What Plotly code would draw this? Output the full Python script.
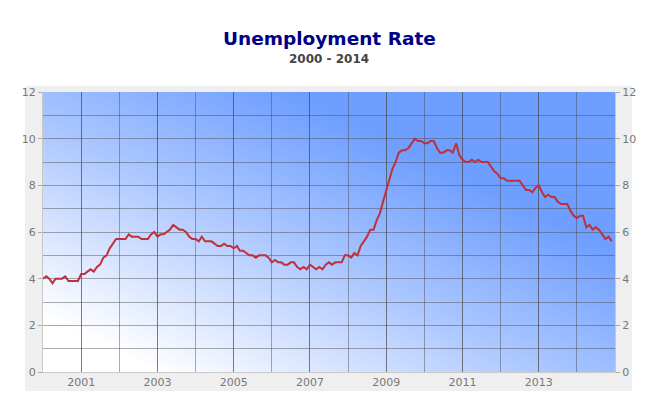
import base64
import struct
import zlib
import pandas as pd
import plotly.graph_objects as go

# Monthly unemployment rate (%), Jan 2000 - Dec 2014
rate_2000 = [4.0, 4.1, 4.0, 3.8, 4.0, 4.0, 4.0, 4.1, 3.9, 3.9, 3.9, 3.9]
rate_2001 = [4.2, 4.2, 4.3, 4.4, 4.3, 4.5, 4.6, 4.9, 5.0, 5.3, 5.5, 5.7]
rate_2002 = [5.7, 5.7, 5.7, 5.9, 5.8, 5.8, 5.8, 5.7, 5.7, 5.7, 5.9, 6.0]
rate_2003 = [5.8, 5.9, 5.9, 6.0, 6.1, 6.3, 6.2, 6.1, 6.1, 6.0, 5.8, 5.7]
rate_2004 = [5.7, 5.6, 5.8, 5.6, 5.6, 5.6, 5.5, 5.4, 5.4, 5.5, 5.4, 5.4]
rate_2005 = [5.3, 5.4, 5.2, 5.2, 5.1, 5.0, 5.0, 4.9, 5.0, 5.0, 5.0, 4.9]
rate_2006 = [4.7, 4.8, 4.7, 4.7, 4.6, 4.6, 4.7, 4.7, 4.5, 4.4, 4.5, 4.4]
rate_2007 = [4.6, 4.5, 4.4, 4.5, 4.4, 4.6, 4.7, 4.6, 4.7, 4.7, 4.7, 5.0]
rate_2008 = [5.0, 4.9, 5.1, 5.0, 5.4, 5.6, 5.8, 6.1, 6.1, 6.5, 6.8, 7.3]
rate_2009 = [7.8, 8.3, 8.7, 9.0, 9.4, 9.5, 9.5, 9.6, 9.8, 10.0, 9.9, 9.9]
rate_2010 = [9.8, 9.8, 9.9, 9.9, 9.6, 9.4, 9.4, 9.5, 9.5, 9.4, 9.8, 9.3]
rate_2011 = [9.1, 9.0, 9.0, 9.1, 9.0, 9.1, 9.0, 9.0, 9.0, 8.8, 8.6, 8.5]
rate_2012 = [8.3, 8.3, 8.2, 8.2, 8.2, 8.2, 8.2, 8.0, 7.8, 7.8, 7.7, 7.9]
rate_2013 = [8.0, 7.7, 7.5, 7.6, 7.5, 7.5, 7.3, 7.2, 7.2, 7.2, 6.9, 6.7]
rate_2014 = [6.6, 6.7, 6.7, 6.2, 6.3, 6.1, 6.2, 6.1, 5.9, 5.7, 5.8, 5.6]

rates = (rate_2000 + rate_2001 + rate_2002 + rate_2003 + rate_2004 + rate_2005 +
         rate_2006 + rate_2007 + rate_2008 + rate_2009 + rate_2010 + rate_2011 +
         rate_2012 + rate_2013 + rate_2014)
dates = pd.date_range("2000-01-01", periods=len(rates), freq="MS")

x_tick_labels = ["2001", "2003", "2005", "2007", "2009", "2011", "2013"]
x_tick_vals = [lbl + "-01-01" for lbl in x_tick_labels]

title_text = "Unemployment Rate"
subtitle_text = "2000 - 2014"


# ---- small PNG helpers (backgrounds only) ----
def png_uri(width, height, pixel_fn):
    raw = bytearray()
    for j in range(height):
        raw.append(0)
        for i in range(width):
            raw.extend(pixel_fn(i, j))

    def chunk(tag, data):
        c = struct.pack(">I", len(data)) + tag + data
        return c + struct.pack(">I", zlib.crc32(tag + data) & 0xffffffff)

    png = b"\x89PNG\r\n\x1a\n"
    png += chunk(b"IHDR", struct.pack(">IIBBBBB", width, height, 8, 2, 0, 0, 0))
    png += chunk(b"IDAT", zlib.compress(bytes(raw), 9))
    png += chunk(b"IEND", b"")
    return "data:image/png;base64," + base64.b64encode(png).decode()


W, H = 286, 140
stops = [(0.0, (255, 255, 255)), (0.10, (255, 255, 255)),
         (0.45, (170, 198, 255)), (0.72, (110, 158, 255)), (1.0, (110, 158, 255))]


def grad(i, j):
    u = i / (W - 1)
    v = 1 - j / (H - 1)
    t = (u + v) / 2
    for k in range(len(stops) - 1):
        t0, c0 = stops[k]
        t1, c1 = stops[k + 1]
        if t <= t1:
            f = 0 if t1 == t0 else (t - t0) / (t1 - t0)
            return bytes(int(round(c0[m] + (c1[m] - c0[m]) * f)) for m in range(3))
    return bytes(stops[-1][1])


gradient_uri = png_uri(W, H, grad)
panel_uri = png_uri(2, 2, lambda i, j: bytes((239, 239, 239)))

fig = go.Figure()
fig.add_trace(go.Scatter(
    x=dates, y=rates, mode="lines",
    line=dict(color="#c0303a", width=2),
    hoverinfo="x+y", showlegend=False,
))
# invisible copy so the right-hand axis is drawn
fig.add_trace(go.Scatter(
    x=dates, y=rates, mode="lines", yaxis="y2",
    line=dict(color="rgba(0,0,0,0)", width=0),
    hoverinfo="skip", showlegend=False,
))

grid_color = "rgba(70,70,70,0.45)"
tick_font = dict(family="DejaVu Sans", size=11, color="#777777")

fig.update_layout(
    width=644, height=397,
    margin=dict(l=35, r=37, t=84, b=33),
    paper_bgcolor="white",
    plot_bgcolor="rgba(0,0,0,0)",
    xaxis=dict(
        type="date",
        range=["2000-01-01", "2015-01-01"],
        tickvals=x_tick_vals, ticktext=x_tick_labels, tickmode="array",
        showgrid=True, gridcolor=grid_color, gridwidth=1,
        minor=dict(dtick="M12", tick0="2000-01-01", showgrid=True,
                   gridcolor=grid_color, gridwidth=1),
        ticks="", tickfont=tick_font, automargin=False,
        showline=True, linecolor="#c8c8c8", linewidth=1,
        zeroline=False, fixedrange=True,
    ),
    yaxis=dict(
        range=[0, 12], dtick=2, tick0=0,
        showgrid=True, gridcolor=grid_color, gridwidth=1,
        minor=dict(dtick=1, showgrid=True, gridcolor=grid_color, gridwidth=1),
        ticks="outside", ticklen=4, tickcolor="#aaaaaa", automargin=False,
        tickfont=tick_font, showline=True, linecolor="#c8c8c8", linewidth=1,
        zeroline=False, fixedrange=True,
    ),
    yaxis2=dict(
        range=[0, 12], dtick=2, tick0=0, overlaying="y", side="right",
        showgrid=False, ticks="outside", ticklen=4, tickcolor="#aaaaaa",
        tickfont=tick_font, showline=True, linecolor="#c8c8c8", linewidth=1,
        zeroline=False, fixedrange=True, automargin=False,
    ),
    images=[
        dict(source=panel_uri, xref="paper", yref="paper",
             x=-0.0315, y=1.0214, sizex=1.0612, sizey=1.0893, sizing="stretch",
             xanchor="left", yanchor="top", layer="below"),
        dict(source=gradient_uri, xref="paper", yref="paper",
             x=0, y=1, sizex=1, sizey=1, sizing="stretch",
             xanchor="left", yanchor="top", layer="below"),
    ],
    annotations=[
        dict(text="<b>" + title_text + "</b>", xref="paper", yref="paper",
             x=0.5, y=1.0, xanchor="center", yanchor="bottom", yshift=41,
             showarrow=False,
             font=dict(family="DejaVu Sans", size=18.5, color="#000088")),
        dict(text="<b>" + subtitle_text + "</b>", xref="paper", yref="paper",
             x=0.5, y=1.0, xanchor="center", yanchor="bottom", yshift=24,
             showarrow=False,
             font=dict(family="DejaVu Sans", size=12, color="#444444")),
    ],
)

fig.write_html("out.html")
